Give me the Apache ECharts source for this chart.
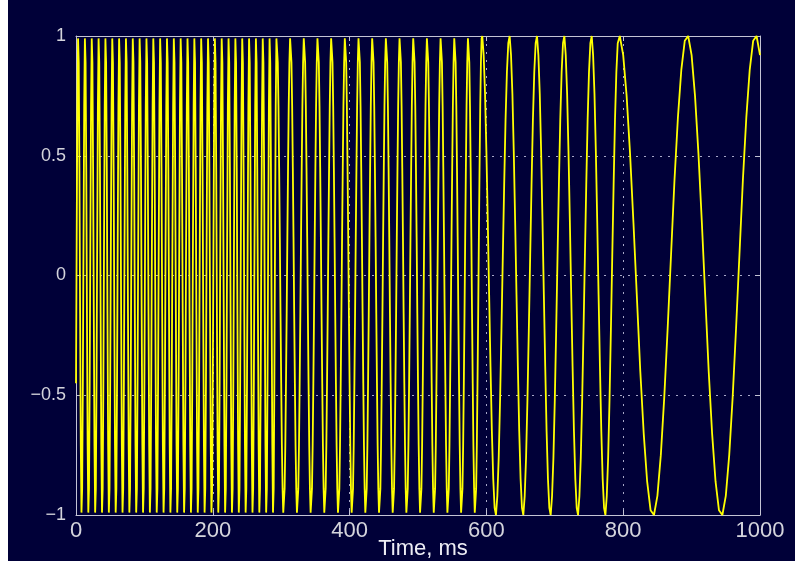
<!DOCTYPE html>
<html>
<head>
<meta charset="utf-8">
<script src="https://cdn.jsdelivr.net/npm/echarts@6/dist/echarts.min.js"></script>
<style>
  html, body { margin: 0; padding: 0; background: #ffffff; }
  #chart { position: absolute; left: 8px; top: 0; width: 787px; height: 561px; background: #000038; }
</style>
</head>
<body>
<div id="chart"></div>
<script>
// Sampled signal, one array per frequency band (values in normalised units).
// 100 Hz band, 1 ms samples from t = 0
const band100Start = 0, band100Step = 1;
const band100 = [
  -0.45,0.16,0.71,0.99,0.89,0.45,-0.16,-0.71,-0.99,-0.89,
  -0.45,0.16,0.71,0.99,0.89,0.45,-0.16,-0.71,-0.99,-0.89,
  -0.45,0.16,0.71,0.99,0.89,0.45,-0.16,-0.71,-0.99,-0.89,
  -0.45,0.16,0.71,0.99,0.89,0.45,-0.16,-0.71,-0.99,-0.89,
  -0.45,0.16,0.71,0.99,0.89,0.45,-0.16,-0.71,-0.99,-0.89,
  -0.45,0.16,0.71,0.99,0.89,0.45,-0.16,-0.71,-0.99,-0.89,
  -0.45,0.16,0.71,0.99,0.89,0.45,-0.16,-0.71,-0.99,-0.89,
  -0.45,0.16,0.71,0.99,0.89,0.45,-0.16,-0.71,-0.99,-0.89,
  -0.45,0.16,0.71,0.99,0.89,0.45,-0.16,-0.71,-0.99,-0.89,
  -0.45,0.16,0.71,0.99,0.89,0.45,-0.16,-0.71,-0.99,-0.89,
  -0.45,0.16,0.71,0.99,0.89,0.45,-0.16,-0.71,-0.99,-0.89,
  -0.45,0.16,0.71,0.99,0.89,0.45,-0.16,-0.71,-0.99,-0.89,
  -0.45,0.16,0.71,0.99,0.89,0.45,-0.16,-0.71,-0.99,-0.89,
  -0.45,0.16,0.71,0.99,0.89,0.45,-0.16,-0.71,-0.99,-0.89,
  -0.45,0.16,0.71,0.99,0.89,0.45,-0.16,-0.71,-0.99,-0.89,
  -0.45,0.16,0.71,0.99,0.89,0.45,-0.16,-0.71,-0.99,-0.89,
  -0.45,0.16,0.71,0.99,0.89,0.45,-0.16,-0.71,-0.99,-0.89,
  -0.45,0.16,0.71,0.99,0.89,0.45,-0.16,-0.71,-0.99,-0.89,
  -0.45,0.16,0.71,0.99,0.89,0.45,-0.16,-0.71,-0.99,-0.89,
  -0.45,0.16,0.71,0.99,0.89,0.45,-0.16,-0.71,-0.99,-0.89,
  -0.45,0.16,0.71,0.99,0.89,0.45,-0.16,-0.71,-0.99,-0.89,
  -0.45,0.16,0.71,0.99,0.89,0.45,-0.16,-0.71,-0.99,-0.89,
  -0.45,0.16,0.71,0.99,0.89,0.45,-0.16,-0.71,-0.99,-0.89,
  -0.45,0.16,0.71,0.99,0.89,0.45,-0.16,-0.71,-0.99,-0.89,
  -0.45,0.16,0.71,0.99,0.89,0.45,-0.16,-0.71,-0.99,-0.89,
  -0.45,0.16,0.71,0.99,0.89,0.45,-0.16,-0.71,-0.99,-0.89,
  -0.45,0.16,0.71,0.99,0.89,0.45,-0.16,-0.71,-0.99,-0.89,
  -0.45,0.16,0.71,0.99,0.89,0.45,-0.16,-0.71,-0.99,-0.89,
  -0.45,0.16,0.71,0.99,0.89,0.45,-0.16,-0.71,-0.99,-0.89,
  -0.45,0.16,0.71,0.99
];

// 50 Hz band, 1 ms samples from t = 294
const band50Start = 294, band50Step = 1;
const band50 = [
  0.99,0.89,0.71,0.45,0.16,-0.16,-0.45,-0.71,-0.89,-0.99,-0.99,-0.89,-0.71,-0.45,-0.16,0.16,0.45,0.71,0.89,0.99,
  0.99,0.89,0.71,0.45,0.16,-0.16,-0.45,-0.71,-0.89,-0.99,-0.99,-0.89,-0.71,-0.45,-0.16,0.16,0.45,0.71,0.89,0.99,
  0.99,0.89,0.71,0.45,0.16,-0.16,-0.45,-0.71,-0.89,-0.99,-0.99,-0.89,-0.71,-0.45,-0.16,0.16,0.45,0.71,0.89,0.99,
  0.99,0.89,0.71,0.45,0.16,-0.16,-0.45,-0.71,-0.89,-0.99,-0.99,-0.89,-0.71,-0.45,-0.16,0.16,0.45,0.71,0.89,0.99,
  0.99,0.89,0.71,0.45,0.16,-0.16,-0.45,-0.71,-0.89,-0.99,-0.99,-0.89,-0.71,-0.45,-0.16,0.16,0.45,0.71,0.89,0.99,
  0.99,0.89,0.71,0.45,0.16,-0.16,-0.45,-0.71,-0.89,-0.99,-0.99,-0.89,-0.71,-0.45,-0.16,0.16,0.45,0.71,0.89,0.99,
  0.99,0.89,0.71,0.45,0.16,-0.16,-0.45,-0.71,-0.89,-0.99,-0.99,-0.89,-0.71,-0.45,-0.16,0.16,0.45,0.71,0.89,0.99,
  0.99,0.89,0.71,0.45,0.16,-0.16,-0.45,-0.71,-0.89,-0.99,-0.99,-0.89,-0.71,-0.45,-0.16,0.16,0.45,0.71,0.89,0.99,
  0.99,0.89,0.71,0.45,0.16,-0.16,-0.45,-0.71,-0.89,-0.99,-0.99,-0.89,-0.71,-0.45,-0.16,0.16,0.45,0.71,0.89,0.99,
  0.99,0.89,0.71,0.45,0.16,-0.16,-0.45,-0.71,-0.89,-0.99,-0.99,-0.89,-0.71,-0.45,-0.16,0.16,0.45,0.71,0.89,0.99,
  0.99,0.89,0.71,0.45,0.16,-0.16,-0.45,-0.71,-0.89,-0.99,-0.99,-0.89,-0.71,-0.45,-0.16,0.16,0.45,0.71,0.89,0.99,
  0.99,0.89,0.71,0.45,0.16,-0.16,-0.45,-0.71,-0.89,-0.99,-0.99,-0.89,-0.71,-0.45,-0.16,0.16,0.45,0.71,0.89,0.99,
  0.99,0.89,0.71,0.45,0.16,-0.16,-0.45,-0.71,-0.89,-0.99,-0.99,-0.89,-0.71,-0.45,-0.16,0.16,0.45,0.71,0.89,0.99,
  0.99,0.89,0.71,0.45,0.16,-0.16,-0.45,-0.71,-0.89,-0.99,-0.99,-0.89,-0.71,-0.45,-0.16,0.16,0.45,0.71,0.89,0.99,
  0.99,0.89,0.71,0.45,0.16,-0.16,-0.45,-0.71,-0.89,-0.99,-0.99,-0.89,-0.71,-0.45,-0.16,0.16,0.45,0.71,0.89,0.99
];

// 25 Hz band, 2 ms samples from t = 594
const band25Start = 594, band25Step = 2;
const band25 = [
  1,0.92,0.76,0.52,0.23,-0.08,-0.38,-0.65,-0.85,-0.97,-1,-0.92,-0.76,-0.52,-0.23,0.08,0.38,0.65,0.85,0.97,
  1,0.92,0.76,0.52,0.23,-0.08,-0.38,-0.65,-0.85,-0.97,-1,-0.92,-0.76,-0.52,-0.23,0.08,0.38,0.65,0.85,0.97,
  1,0.92,0.76,0.52,0.23,-0.08,-0.38,-0.65,-0.85,-0.97,-1,-0.92,-0.76,-0.52,-0.23,0.08,0.38,0.65,0.85,0.97,
  1,0.92,0.76,0.52,0.23,-0.08,-0.38,-0.65,-0.85,-0.97,-1,-0.92,-0.76,-0.52,-0.23,0.08,0.38,0.65,0.85,0.97,
  1,0.92,0.76,0.52,0.23,-0.08,-0.38,-0.65,-0.85,-0.97,-1,-0.92,-0.76,-0.52,-0.23,0.08,0.38,0.65,0.85,0.97
];

// 10 Hz band, 5 ms samples from t = 795
const band10Start = 795, band10Step = 5;
const band10 = [
  1,0.92,0.75,0.51,0.22,-0.09,-0.4,-0.66,-0.86,-0.98,-1,-0.92,-0.75,-0.51,-0.22,0.09,0.4,0.66,0.86,0.98,
  1,0.92,0.75,0.51,0.22,-0.09,-0.4,-0.66,-0.86,-0.98,-1,-0.92,-0.75,-0.51,-0.22,0.09,0.4,0.66,0.86,0.98,
  1,0.92
];

// Axis ticks
const xTicks = [0, 200, 400, 600, 800, 1000];
const xTickLabels = ['0', '200', '400', '600', '800', '1000'];
const yTicks = [-1, -0.5, 0, 0.5, 1];
const yTickLabels = ['\u22121', '\u22120.5', '0', '0.5', '1'];

const bands = [
  [band100Start, band100Step, band100],
  [band50Start, band50Step, band50],
  [band25Start, band25Step, band25],
  [band10Start, band10Step, band10]
];
const signal = [];
bands.forEach(([start, step, vals]) => {
  vals.forEach((v, i) => signal.push([start + i * step, v]));
});

const axisColor = '#c4c4d4';
const textColor = '#d4d4dc';
const gridColor = '#a8a8c8';
const font = "'Liberation Sans', Arial, sans-serif";

const labelFor = (ticks, labels) => (v) => {
  const i = ticks.findIndex(t => Math.abs(t - v) < 1e-9);
  return i >= 0 ? labels[i] : '';
};

const boxAxisLine = { show: true, onZero: false, lineStyle: { color: axisColor, width: 1 } };
const boxTick = { show: true, inside: true, length: 5, lineStyle: { color: axisColor } };
const dotted = { show: true, lineStyle: { color: gridColor, width: 1, type: [2, 6] } };

const chart = echarts.init(document.getElementById('chart'), null, { renderer: 'canvas' });
chart.setOption({
  animation: false,
  backgroundColor: '#000038',
  grid: { left: 68, right: 35, top: 36, bottom: 46, containLabel: false, outerBoundsMode: 'none' },
  xAxis: [
    {
      type: 'value', min: 0, max: 1000, interval: 200, position: 'bottom',
      name: 'Time, ms', nameLocation: 'middle', nameGap: 23, nameMoveOverlap: false,
      nameTextStyle: { color: '#ececf4', fontSize: 22, fontFamily: font, padding: [0, 0, 0, 10] },
      axisLine: boxAxisLine,
      axisTick: boxTick,
      axisLabel: { color: textColor, fontSize: 22, fontFamily: font, margin: 5, formatter: labelFor(xTicks, xTickLabels) },
      splitLine: dotted
    },
    {
      type: 'value', min: 0, max: 1000, interval: 200, position: 'top',
      axisLine: boxAxisLine,
      axisTick: boxTick,
      axisLabel: { show: false }, splitLine: { show: false }
    }
  ],
  yAxis: [
    {
      type: 'value', min: -1, max: 1, interval: 0.5, position: 'left',
      axisLine: boxAxisLine,
      axisTick: boxTick,
      axisLabel: { color: textColor, fontSize: 18, fontFamily: font, margin: 10, formatter: labelFor(yTicks, yTickLabels) },
      splitLine: dotted
    },
    {
      type: 'value', min: -1, max: 1, interval: 0.5, position: 'right',
      axisLine: boxAxisLine,
      axisTick: boxTick,
      axisLabel: { show: false }, splitLine: { show: false }
    }
  ],
  series: [{
    type: 'line',
    data: signal,
    xAxisIndex: 0, yAxisIndex: 0,
    showSymbol: false,
    silent: true,
    lineStyle: { color: '#ffff00', width: 1.8 },
    z: 1
  }]
});
</script>
</body>
</html>
